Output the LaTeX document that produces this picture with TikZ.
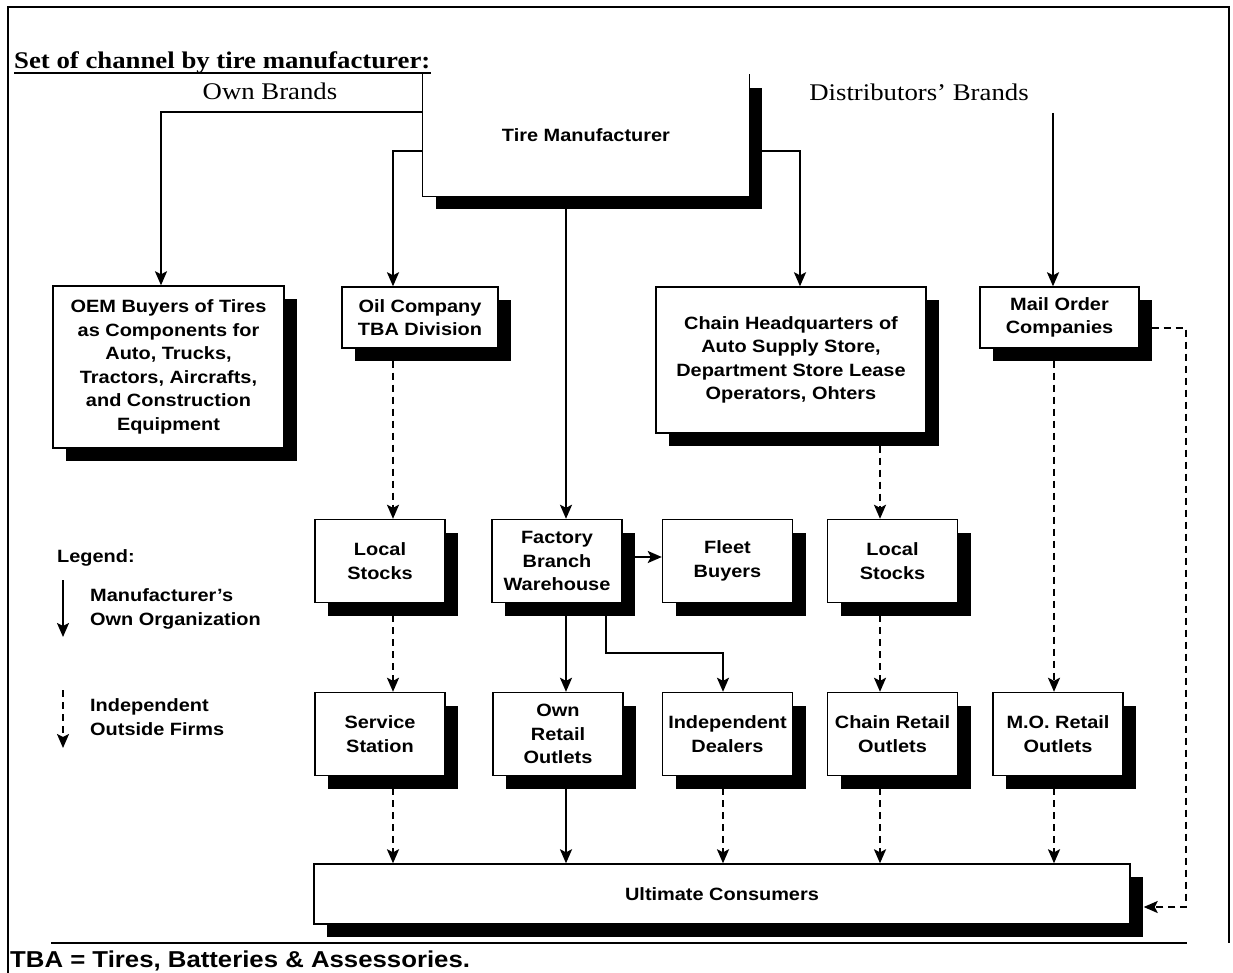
\documentclass[tikz,border=0pt]{standalone}
\usepackage{fontspec}
\setmainfont{Liberation Sans}[FakeStretch=1.12]
\newfontfamily\serifface{Liberation Serif}[FakeStretch=1.12]
\usetikzlibrary{arrows.meta,shadows}
\newcommand\bxfont{\bfseries\fontsize{17.8}{23.5}\selectfont}
\tikzset{
  box/.style={draw, line width=1.4pt, fill=white, align=center, inner sep=0pt, font=\bxfont,
    drop shadow={shadow xshift=13pt, shadow yshift=-13pt, fill=black, opacity=1}},
  sbox/.style={box, minimum width=130pt, minimum height=83pt},
  tmbox/.style={box, draw=none},
  own/.style={line width=2pt, -{Stealth[length=14pt,width=12pt,inset=3pt]}},
  ind/.style={own, dash pattern=on 7pt off 5pt},
  lgtext/.style={anchor=west, align=left, inner sep=0pt, font=\bxfont},
  brand/.style={anchor=base, inner sep=0pt, font=\serifface\fontsize{23.9}{28}\selectfont},
  frameline/.style={line width=2.5pt}
}
\begin{document}
\begin{tikzpicture}[x=1pt,y=-1pt]
\useasboundingbox (0,0) rectangle (1233,973);
\fill[white] (0,0) rectangle (1233,973);
% frame
\draw[frameline] (8,973) -- (8,7) -- (1229,7) -- (1229,943);
\draw[frameline] (51,943) -- (1187,943);

% title and brand labels
\node[anchor=base west, inner sep=0pt, font=\serifface\bfseries\fontsize{23.9}{28}\selectfont] (title) at (14,69) {Set of channel by tire manufacturer:};
\draw[line width=2pt] ([yshift=-4pt]title.base west) -- ([yshift=-4pt]title.base east);
\node[brand] (ownb) at (270,100) {Own Brands};
\node[brand] (distb) at (919,101) {Distributors’ Brands};

% tire manufacturer
\node[tmbox, minimum width=326pt, minimum height=121pt] (tm) at (586,135.5) {Tire Manufacturer};
\draw[line width=1.4pt] (tm.north west) -- (tm.south west) -- (tm.south east) -- (tm.north east);

% row 1
\node[box, minimum width=231pt, minimum height=162pt] (oem) at (168.5,367) {OEM Buyers of Tires\\as Components for\\Auto, Trucks,\\Tractors, Aircrafts,\\and Construction\\Equipment};
\node[box, minimum width=156pt, minimum height=61pt] (oil) at (420,317.5) {Oil Company\\TBA Division};
\node[box, minimum width=270pt, minimum height=146pt] (chq) at (791,360) {Chain Headquarters of\\Auto Supply Store,\\Department Store Lease\\Operators, Ohters};
\node[box, minimum width=159pt, minimum height=61pt] (mail) at (1059.5,317.5) {Mail Order\\Companies};

% row 2
\node[sbox] (lsl) at (380,561) {Local\\Stocks};
\node[sbox] (fbw) at (557,561) {Factory\\Branch\\Warehouse};
\node[sbox] (fleet) at (727.5,561) {Fleet\\Buyers};
\node[sbox] (lsr) at (892.5,561) {Local\\Stocks};

% row 3
\node[sbox] (ss) at (380,734) {Service\\Station};
\node[sbox] (orl) at (558,734) {Own\\Retail\\Outlets};
\node[sbox] (ind) at (727.5,734) {Independent\\Dealers};
\node[sbox] (crl) at (892.5,734) {Chain Retail\\Outlets};
\node[sbox] (mor) at (1058,734) {M.O. Retail\\Outlets};

% consumers
\node[box, minimum width=816pt, minimum height=60pt] (ult) at (722,894) {Ultimate Consumers};

% legend
\node[anchor=west, inner sep=0pt, font=\bxfont] (lg) at (57,558) {Legend:};
\node[lgtext] (lgown) at (90,609) {Manufacturer's\\Own Organization};
\node[lgtext] (lgind) at (90,717) {Independent\\Outside Firms};
\coordinate (la1) at (63,580);
\coordinate (la2) at (63,637);
\coordinate (lb1) at (63,690);
\coordinate (lb2) at (63,748);
\draw[own] (la1) -- (la2);
\draw[ind] (lb1) -- (lb2);

% footnote
\node[anchor=base west, inner sep=0pt, font=\bfseries\fontsize{23}{27}\selectfont] (tba) at (10,967) {TBA = Tires, Batteries \& Assessories.};

% connector helpers
\coordinate (k1) at (161,112);
\coordinate (k2) at (393,151);
\coordinate (k3) at (800,151);
\coordinate (k4) at (1053,113);
\coordinate (k5) at (566,0);
\coordinate (k6) at (393,0);
\coordinate (k7) at (606,653);
\coordinate (k8) at (723,653);
\coordinate (k9) at (880,0);
\coordinate (k10) at (1054,0);
\coordinate (k11) at (1186,328);
\coordinate (k12) at (1186,907);
\coordinate (k13) at (0,557);

% connectors
\draw[own] (tm.west |- k1) -- (k1) -- (k1 |- oem.north);
\draw[own] (tm.west |- k2) -- (k2) -- (k2 |- oil.north);
\draw[own] (tm.east |- k3) -- (k3) -- (k3 |- chq.north);
\draw[own] (k4) -- (k4 |- mail.north);
\draw[own] (tm.south -| k5) -- (fbw.north -| k5);
\draw[ind] (oil.south -| k6) -- (lsl.north -| k6);
\draw[ind] (lsl.south -| k6) -- (ss.north -| k6);
\draw[ind] (ss.south -| k6) -- (ult.north -| k6);
\draw[own] (fbw.south -| k5) -- (orl.north -| k5);
\draw[own] (orl.south -| k5) -- (ult.north -| k5);
\draw[own] (fbw.east |- k13) -- (fleet.west |- k13);
\draw[own] (fbw.south -| k7) -- (k7) -- (k8) -- (ind.north -| k8);
\draw[ind] (ind.south -| k8) -- (ult.north -| k8);
\draw[ind] (chq.south -| k9) -- (lsr.north -| k9);
\draw[ind] (lsr.south -| k9) -- (crl.north -| k9);
\draw[ind] (crl.south -| k9) -- (ult.north -| k9);
\draw[ind] (mail.south -| k10) -- (mor.north -| k10);
\draw[ind] (mor.south -| k10) -- (ult.north -| k10);
\draw[ind, shorten >=13pt] (mail.east |- k11) -- (k11) -- (k12) -- (ult.east |- k12);
\end{tikzpicture}
\end{document}
